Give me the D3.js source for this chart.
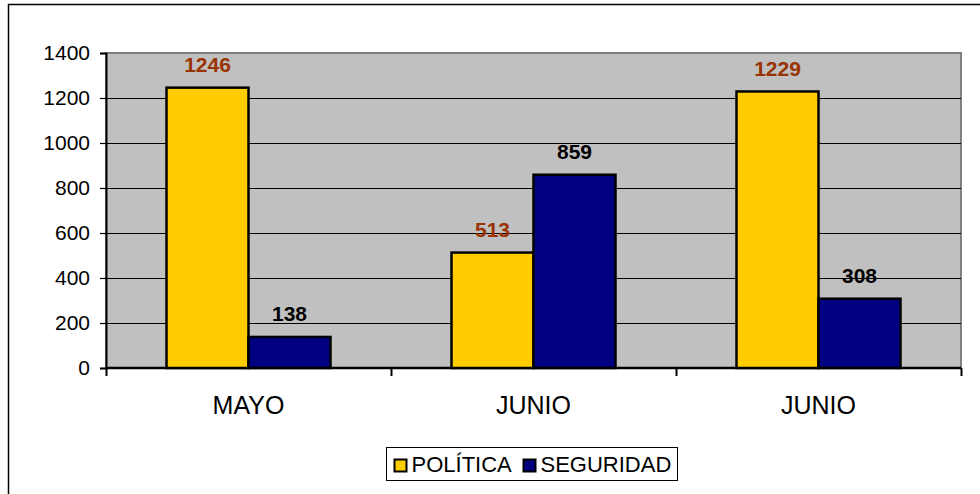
<!DOCTYPE html>
<html><head><meta charset="utf-8">
<script src="https://cdn.jsdelivr.net/npm/d3@7"></script>
<style>html,body{margin:0;padding:0;background:#fff;}svg{display:block;font-family:"Liberation Sans",Arial,sans-serif;}</style>
</head><body>
<svg id="c" width="980" height="494"></svg>
<script>
const categories = ["MAYO", "JUNIO", "JUNIO"];
const seriesNames = ["POLÍTICA", "SEGURIDAD"];
const politica = [1246, 513, 1229];
const seguridad = [138, 859, 308];
const yTicks = [0, 200, 400, 600, 800, 1000, 1200, 1400];
const colors = ["#FFCC00", "#000080"];
const labelColors = ["#993300", "#000000"];

const svg = d3.select("#c");
// outer frame
svg.append("rect").attr("x", 8.5).attr("y", 4.5).attr("width", 980).attr("height", 500)
  .attr("fill", "#fff").attr("stroke", "#000").attr("stroke-width", 1.5);

const L = 106, R = 961, T = 53, B = 368;
const x = d3.scaleBand().domain(d3.range(categories.length)).range([L, R]).paddingInner(0).paddingOuter(0);
const y = d3.scaleLinear().domain([0, 1400]).range([B, T]);
const groupW = x.bandwidth() * 164 / 285;
const xs = d3.scaleBand().domain([0, 1]).range([0, groupW]);

// plot area
svg.append("rect").attr("x", L).attr("y", T).attr("width", R - L).attr("height", B - T)
  .attr("fill", "#C0C0C0").attr("stroke", "#808080").attr("stroke-width", 2);

// gridlines
svg.append("g").selectAll("line").data(yTicks.filter(d => d > 0 && d < 1400)).join("line")
  .attr("x1", L).attr("x2", R).attr("y1", d => Math.round(y(d)) + 0.5).attr("y2", d => Math.round(y(d)) + 0.5)
  .attr("stroke", "#000").attr("stroke-width", 1);

// y axis
const yAxis = d3.axisLeft(y).tickValues(yTicks).tickSize(6).tickPadding(10).tickFormat(d3.format("d"));
const gy = svg.append("g").attr("transform", `translate(${L},0)`).call(yAxis);
gy.attr("font-size", 21).attr("font-family", "Liberation Sans, Arial, sans-serif");
gy.select(".domain").attr("stroke", "#000").attr("stroke-width", 2);
gy.selectAll(".tick line").attr("stroke", "#000").attr("stroke-width", 1.2);
gy.selectAll(".tick text").attr("fill", "#000");

// x axis
const xAxis = d3.axisBottom(d3.scaleLinear().domain([0, 3]).range([L, R])).tickValues([0, 1, 2, 3]).tickSize(8).tickFormat("");
const gx = svg.append("g").attr("transform", `translate(0,${B})`).call(xAxis);
gx.select(".domain").attr("stroke", "#000").attr("stroke-width", 2.5).attr("d", `M${L},0H${R}`);
gx.selectAll(".tick line").attr("stroke", "#000").attr("stroke-width", 2);
svg.append("g").selectAll("text").data(categories).join("text")
  .attr("x", (d, i) => x(i) + x.bandwidth() / 2).attr("y", 414)
  .attr("text-anchor", "middle").attr("font-size", 25).attr("fill", "#000").text(d => d);

// bars
const data = [politica, seguridad];
data.forEach((vals, s) => {
  const g = svg.append("g");
  g.selectAll("rect").data(vals).join("rect")
    .attr("x", (d, i) => x(i) + (x.bandwidth() - groupW) / 2 + xs(s))
    .attr("y", d => y(d))
    .attr("width", xs.bandwidth())
    .attr("height", d => B - y(d))
    .attr("fill", colors[s]).attr("stroke", "#000").attr("stroke-width", 2.5);
  g.selectAll("text").data(vals).join("text")
    .attr("x", (d, i) => x(i) + (x.bandwidth() - groupW) / 2 + xs(s) + xs.bandwidth() / 2)
    .attr("y", d => y(d) - 15.5)
    .attr("text-anchor", "middle").attr("font-size", 21).attr("font-weight", "bold")
    .attr("fill", labelColors[s]).text(d => d);
});

// legend
const lg = svg.append("g");
lg.append("rect").attr("x", 386.5).attr("y", 447.5).attr("width", 291).attr("height", 33)
  .attr("fill", "#fff").attr("stroke", "#000").attr("stroke-width", 1);
const items = [{n: seriesNames[0], c: colors[0], x: 394.5}, {n: seriesNames[1], c: colors[1], x: 523.5}];
items.forEach(it => {
  lg.append("rect").attr("x", it.x).attr("y", 459.5).attr("width", 12).attr("height", 12)
    .attr("fill", it.c).attr("stroke", "#000").attr("stroke-width", 2);
  lg.append("text").attr("x", it.x + 17).attr("y", 472).attr("font-size", 22).attr("fill", "#000").text(it.n);
});
</script>
</body></html>
